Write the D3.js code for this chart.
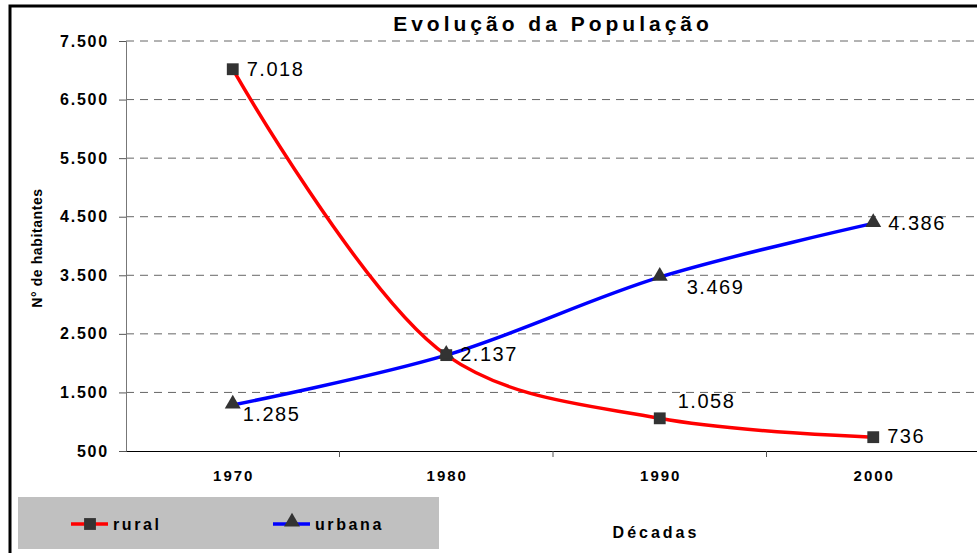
<!DOCTYPE html>
<html>
<head>
<meta charset="utf-8" />
<title>Evolução da População</title>
<script src="https://d3js.org/d3.v7.min.js"></script>
<style>
  body { margin: 0; background: #fff; }
  svg text { font-family: "Liberation Sans", Arial, sans-serif; }
</style>
</head>
<body>
<script>
  const decades = ["1970", "1980", "1990", "2000"];
  const rural = [7018, 2137, 1058, 736];
  const urbana = [1285, 2137, 3469, 4386];
  const yTicks = [500, 1500, 2500, 3500, 4500, 5500, 6500, 7500];

  // label offsets per point (dx, dy from marker centre)
  const ruralLabelPos = [[14, 8], [14, 8], [18, -9], [14, 8]];
  const urbanaLabelPos = [[10, 18], [14, 8], [27, 19], [15, 8]];

  const width = 977, height = 553;
  const plotLeft = 126, plotRight = 980, plotTop = 41, plotBottom = 451;

  const svg = d3.select("body").append("svg")
    .attr("width", width)
    .attr("height", height);

  const x = d3.scaleBand().domain(decades).range([plotLeft, plotRight]);
  const y = d3.scaleLinear().domain([500, 7500]).range([plotBottom, plotTop]);
  const cx = d => x(d) + x.bandwidth() / 2;
  const fmt = v => d3.format(",")(v).replace(/,/g, ".");

  // outer frame
  svg.append("rect")
    .attr("x", 10).attr("y", 6)
    .attr("width", 1100).attr("height", 700)
    .attr("fill", "none").attr("stroke", "#000").attr("stroke-width", 3);

  // gridlines
  svg.append("g").selectAll("line")
    .data(yTicks.filter(t => t > 500))
    .join("line")
    .attr("x1", plotLeft).attr("x2", plotRight)
    .attr("y1", d => y(d)).attr("y2", d => y(d))
    .attr("stroke", "#666").attr("stroke-width", 1)
    .attr("stroke-dasharray", "8,6");

  // y axis
  const yAxis = svg.append("g")
    .attr("transform", `translate(${plotLeft},0)`)
    .call(d3.axisLeft(y).tickValues(yTicks).tickFormat(fmt).tickSize(7).tickPadding(10));
  yAxis.select(".domain").attr("stroke", "#777");
  yAxis.selectAll(".tick line").attr("stroke", "#555");
  yAxis.selectAll("text")
    .attr("font-size", 16).attr("font-weight", "bold").attr("fill", "#000")
    .attr("font-family", "'Liberation Sans', Arial, sans-serif")
    .attr("letter-spacing", 1.8);

  // x axis
  const xAxis = svg.append("g")
    .attr("transform", `translate(0,${plotBottom})`)
    .call(d3.axisBottom(x).tickSize(0).tickPadding(19));
  xAxis.select(".domain").attr("stroke", "#000").attr("stroke-width", 1.2);
  xAxis.selectAll("text")
    .attr("font-size", 15).attr("font-weight", "bold").attr("fill", "#000")
    .attr("font-family", "'Liberation Sans', Arial, sans-serif")
    .attr("letter-spacing", 2)
    .attr("dx", 1);
  // tick marks between categories
  svg.append("g").selectAll("line")
    .data(decades.slice(1))
    .join("line")
    .attr("x1", d => x(d)).attr("x2", d => x(d))
    .attr("y1", plotBottom).attr("y2", plotBottom + 6)
    .attr("stroke", "#555");

  const line = d3.line()
    .x((d, i) => cx(decades[i]))
    .y(d => y(d))
    .curve(d3.curveCatmullRom.alpha(0.5));

  svg.append("path").datum(rural)
    .attr("d", line).attr("fill", "none")
    .attr("stroke", "#ff0000").attr("stroke-width", 3.5);
  svg.append("path").datum(urbana)
    .attr("d", line).attr("fill", "none")
    .attr("stroke", "#0000ff").attr("stroke-width", 3.5);

  const sq = d3.symbol().type(d3.symbolSquare).size(140);
  const tri = d3.symbol().type(d3.symbolTriangle).size(110);

  svg.append("g").selectAll("path")
    .data(rural).join("path")
    .attr("d", sq)
    .attr("transform", (d, i) => `translate(${cx(decades[i])},${y(d)})`)
    .attr("fill", "#333");
  svg.append("g").selectAll("path")
    .data(urbana).join("path")
    .attr("d", tri)
    .attr("transform", (d, i) => `translate(${cx(decades[i])},${y(d) - 1})`)
    .attr("fill", "#333");

  // value labels
  const labelStyle = sel => sel
    .attr("font-size", 20).attr("fill", "#000")
    .attr("letter-spacing", 1.5)
    .attr("dominant-baseline", "middle");

  svg.append("g").selectAll("text")
    .data(rural).join("text")
    .attr("x", (d, i) => cx(decades[i]) + ruralLabelPos[i][0])
    .attr("y", (d, i) => y(d) + ruralLabelPos[i][1] - 7)
    .text(fmt)
    .call(labelStyle);
  svg.append("g").selectAll("text")
    .data(urbana).join("text")
    .attr("x", (d, i) => cx(decades[i]) + urbanaLabelPos[i][0])
    .attr("y", (d, i) => y(d) + urbanaLabelPos[i][1] - 7)
    .text((d, i) => i === 1 ? "" : fmt(d))
    .call(labelStyle);

  // title
  svg.append("text")
    .attr("x", 553).attr("y", 31)
    .attr("text-anchor", "middle")
    .attr("font-size", 21).attr("font-weight", "bold")
    .attr("letter-spacing", 4)
    .text("Evolução da População");

  // y title
  svg.append("text")
    .attr("transform", "translate(42,248) rotate(-90)")
    .attr("text-anchor", "middle")
    .attr("font-size", 14).attr("font-weight", "bold")
    .attr("letter-spacing", 0.6)
    .text("N° de habitantes");

  // x title
  svg.append("text")
    .attr("x", 656).attr("y", 538)
    .attr("text-anchor", "middle")
    .attr("font-size", 16).attr("font-weight", "bold")
    .attr("letter-spacing", 3)
    .text("Décadas");

  // legend
  const legend = svg.append("g");
  legend.append("rect")
    .attr("x", 18).attr("y", 497)
    .attr("width", 421).attr("height", 52)
    .attr("fill", "#c0c0c0");

  const items = [
    { name: "rural", color: "#ff0000", sym: sq, x: 71 },
    { name: "urbana", color: "#0000ff", sym: tri, x: 273 }
  ];
  items.forEach(it => {
    legend.append("line")
      .attr("x1", it.x).attr("x2", it.x + 37)
      .attr("y1", 524).attr("y2", 524)
      .attr("stroke", it.color).attr("stroke-width", 3.5);
    legend.append("path")
      .attr("d", it.sym)
      .attr("transform", `translate(${it.x + 19},${it.sym === tri ? 522 : 524})`)
      .attr("fill", "#333");
    legend.append("text")
      .attr("x", it.x + 42).attr("y", 530)
      .attr("font-size", 16).attr("font-weight", "bold")
      .attr("letter-spacing", 2.6)
      .text(it.name);
  });
</script>
</body>
</html>
